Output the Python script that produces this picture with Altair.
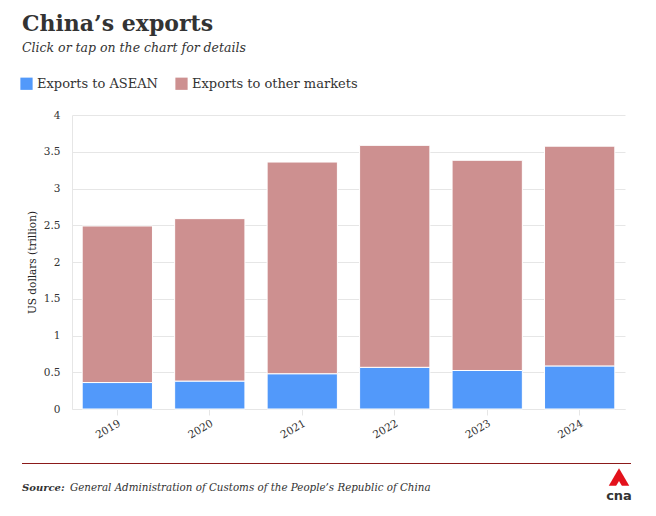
import altair as alt
import pandas as pd

years = ["2019", "2020", "2021", "2022", "2023", "2024"]
asean = [0.36, 0.38, 0.48, 0.567, 0.524, 0.586]
other = [2.13, 2.21, 2.88, 3.02, 2.86, 2.99]
series = ["Exports to ASEAN", "Exports to other markets"]
colors = ["#5299fa", "#cd9090"]

rows = []
for y, a, o in zip(years, asean, other):
    rows.append({"year": y, "series": series[0], "value": a, "order": 0})
    rows.append({"year": y, "series": series[1], "value": o, "order": 1})
df = pd.DataFrame(rows)

FONT = "DejaVu Serif"
W, H = 553, 294

bars = alt.Chart(df).mark_bar(stroke="white", strokeWidth=1).encode(
    x=alt.X("year:N", sort=years, title=None,
            scale=alt.Scale(paddingInner=0.24, paddingOuter=0.11),
            axis=alt.Axis(labelAngle=330, labelFont=FONT, labelFontSize=10.5,
                          labelColor="#333333", labelPadding=3,
                          domainColor="#e6e6e6", tickColor="#e6e6e6", tickSize=6,
                          grid=False)),
    y=alt.Y("value:Q", stack="zero", title="US dollars (trillion)",
            scale=alt.Scale(domain=[0, 4], nice=False),
            axis=alt.Axis(values=[0, 0.5, 1, 1.5, 2, 2.5, 3, 3.5, 4], format="~g",
                          labelFont=FONT, labelFontSize=10.5, labelColor="#333333",
                          labelPadding=12, ticks=False, domainColor="#e6e6e6",
                          gridColor="#e6e6e6", titleFont=FONT, titleFontSize=10.5,
                          titleFontWeight="normal", titleColor="#222222",
                          titlePadding=6)),
    color=alt.Color("series:N", scale=alt.Scale(domain=series, range=colors),
                    legend=alt.Legend(title=None, orient="none", direction="horizontal",
                                      legendX=-52, legendY=-38, symbolType="square",
                                      symbolSize=150, symbolStrokeWidth=0,
                                      labelFont=FONT, labelFontSize=13, labelLimit=400,
                                      labelColor="#333333", columnPadding=17,
                                      labelOffset=4)),
    order=alt.Order("order:Q"),
    tooltip=["year:N", "series:N", "value:Q"],
)

one = pd.DataFrame({"k": [0]})

rule = alt.Chart(one).mark_rule(color="#8b1a1a", strokeWidth=1).encode(
    x=alt.value(-50), x2=alt.value(559), y=alt.value(348.5))

src_b = alt.Chart(one).mark_text(font=FONT, fontSize=10, fontStyle="italic",
                                 fontWeight="bold", align="left", color="#333333").encode(
    x=alt.value(-50), y=alt.value(373), text=alt.value("Source:"))
src = alt.Chart(one).mark_text(font=FONT, fontSize=10.3, fontStyle="italic",
                               align="left", color="#333333").encode(
    x=alt.value(-2), y=alt.value(373),
    text=alt.value("General Administration of Customs of the People\u2019s Republic of China"))

logo_tri = alt.Chart(one).mark_point(shape="triangle-up", filled=True, color="#e3111b",
                                     size=420, opacity=1).encode(
    x=alt.value(547), y=alt.value(362))
logo_notch = alt.Chart(one).mark_point(shape="triangle-up", filled=True, color="white",
                                       size=50, opacity=1).encode(
    x=alt.value(547), y=alt.value(369))
logo_txt = alt.Chart(one).mark_text(font="DejaVu Sans", fontSize=13, fontWeight="bold",
                                    color="#333333").encode(
    x=alt.value(547), y=alt.value(381), text=alt.value("cna"))

chart = alt.layer(bars, rule, src_b, src, logo_tri, logo_notch, logo_txt).properties(
    width=W, height=H,
    background="white",
    title=alt.TitleParams(
        "China\u2019s exports",
        subtitle="Click or tap on the chart for details",
        anchor="start", frame="group", dx=-50, offset=22,
        font=FONT, fontSize=22, fontWeight="bold", color="#333333",
        subtitleFont=FONT, subtitleFontSize=12.5, subtitleFontStyle="italic",
        subtitleColor="#333333", subtitlePadding=6),
    autosize=alt.AutoSizeParams(type="none"),
    padding={"left": 64, "top": 107, "right": 23, "bottom": 99},
).configure_view(stroke=None)

chart.save("out.html", embed_options={"renderer": "svg", "actions": False})
